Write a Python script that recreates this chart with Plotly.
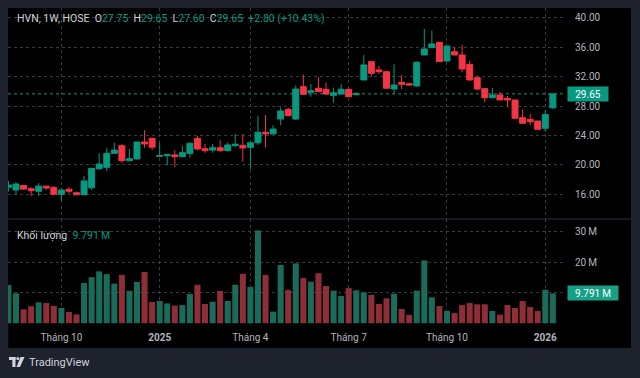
import plotly.graph_objects as go

# ---------------- data ----------------
dates = [
    "2024-08-19", "2024-08-26", "2024-09-02", "2024-09-09", "2024-09-16", "2024-09-23", "2024-09-30",
    "2024-10-07", "2024-10-14", "2024-10-21", "2024-10-28", "2024-11-04", "2024-11-11", "2024-11-18",
    "2024-11-25", "2024-12-02", "2024-12-09", "2024-12-16", "2024-12-23", "2024-12-30",
    "2025-01-06", "2025-01-13", "2025-01-20", "2025-02-03", "2025-02-10", "2025-02-17", "2025-02-24",
    "2025-03-03", "2025-03-10", "2025-03-17", "2025-03-24", "2025-03-31", "2025-04-07", "2025-04-14",
    "2025-04-21", "2025-04-28", "2025-05-05", "2025-05-12", "2025-05-19", "2025-05-26", "2025-06-02",
    "2025-06-09", "2025-06-16", "2025-06-23", "2025-06-30", "2025-07-07", "2025-07-14", "2025-07-21",
    "2025-07-28", "2025-08-04", "2025-08-11", "2025-08-18", "2025-08-25", "2025-09-01", "2025-09-08",
    "2025-09-15", "2025-09-22", "2025-09-29", "2025-10-06", "2025-10-13", "2025-10-20", "2025-10-27",
    "2025-11-03", "2025-11-10", "2025-11-17", "2025-11-24", "2025-12-01", "2025-12-08", "2025-12-15",
    "2025-12-22", "2025-12-29", "2026-01-05", "2026-01-12",
]
opens = [
    16.94, 16.57, 17.20, 16.75, 16.40, 17.10, 16.90, 16.00, 16.67, 16.20,
    15.93, 16.88, 19.47, 19.66, 21.56, 22.60, 20.56, 20.80, 23.10, 23.60,
    21.15, 21.25, 21.35, 21.10, 21.56, 23.60, 22.20, 22.00, 22.33, 21.92,
    22.60, 22.65, 22.38, 23.00, 24.42, 24.20, 26.23, 27.55, 26.23, 30.63,
    29.86, 30.41, 30.27, 29.45, 29.63, 30.27, 29.54, 31.54, 34.03, 32.90,
    32.67, 30.31, 31.22, 31.03, 30.72, 34.94, 35.93, 36.67, 34.12, 35.39,
    34.94, 33.67, 31.85, 30.36, 29.13, 29.50, 29.04, 28.82, 26.40, 26.19,
    25.96, 24.97, 27.75,
]
highs = [
    17.80, 17.62, 17.25, 16.94, 17.50, 17.15, 17.10, 16.80, 16.90, 16.35,
    18.50, 19.52, 21.56, 22.33, 23.00, 22.80, 22.15, 23.10, 24.70, 23.70,
    23.00, 21.40, 22.00, 22.60, 22.93, 23.92, 22.83, 22.83, 23.37, 23.06,
    24.20, 24.20, 23.00, 26.64, 26.78, 25.37, 27.82, 27.77, 30.82, 32.26,
    31.00, 31.90, 31.17, 30.50, 30.95, 30.27, 29.90, 34.94, 34.03, 33.44,
    32.67, 33.67, 32.20, 31.10, 34.03, 38.48, 38.24, 36.67, 36.20, 36.00,
    36.30, 34.16, 32.12, 30.36, 30.45, 29.95, 29.36, 28.82, 27.46, 26.90,
    25.96, 27.46, 29.65,
]
lows = [
    16.35, 15.99, 16.60, 15.76, 15.76, 16.60, 15.90, 15.10, 16.10, 15.90,
    15.90, 16.57, 19.30, 19.16, 21.47, 20.30, 20.47, 20.70, 22.33, 22.00,
    21.10, 19.90, 19.70, 21.10, 20.97, 22.00, 21.65, 21.65, 21.78, 21.92,
    22.47, 20.42, 19.40, 22.70, 22.38, 24.20, 25.40, 26.68, 26.10, 29.59,
    29.27, 29.95, 29.50, 28.45, 29.63, 29.27, 29.45, 31.54, 32.00, 32.35,
    30.41, 29.63, 30.31, 30.80, 30.63, 34.94, 35.93, 34.03, 34.10, 34.90,
    32.58, 31.44, 30.08, 28.50, 29.13, 28.82, 27.90, 26.24, 25.65, 25.40,
    24.83, 24.50, 27.60,
]
closes = [
    17.25, 17.39, 16.70, 16.48, 17.10, 16.84, 16.00, 16.57, 16.40, 15.93,
    17.80, 19.52, 20.10, 21.56, 22.00, 20.56, 20.83, 23.10, 22.83, 22.40,
    21.25, 21.40, 21.10, 21.65, 22.93, 22.15, 21.92, 22.33, 21.92, 22.70,
    22.80, 22.30, 23.00, 24.42, 24.20, 24.87, 27.32, 26.68, 30.31, 29.59,
    30.08, 29.95, 29.63, 29.80, 30.27, 29.27, 29.68, 33.58, 32.45, 32.67,
    30.41, 30.86, 30.95, 30.86, 33.95, 35.76, 36.44, 34.03, 36.16, 34.94,
    33.03, 31.54, 30.31, 29.13, 29.50, 28.82, 28.82, 26.33, 25.65, 25.86,
    24.83, 26.85, 29.65,
]
volumes_m = [
    12.5, 9.8, 4.55, 5.6, 6.85, 6.6, 5.7, 5.0, 3.7, 2.9,
    13.2, 15.1, 17.0, 16.1, 13.0, 15.8, 10.6, 13.5, 16.8, 6.95,
    7.3, 6.5, 5.75, 5.95, 9.6, 12.6, 6.3, 7.05, 10.55, 7.3,
    12.6, 16.2, 11.9, 30.4, 15.8, 3.8, 19.1, 10.9, 19.6, 14.8,
    13.6, 16.4, 12.2, 10.65, 8.9, 11.5, 10.8, 10.1, 9.25, 6.3,
    8.15, 9.7, 4.65, 2.7, 10.65, 20.6, 8.5, 5.65, 4.0, 3.35,
    5.95, 6.6, 6.2, 6.2, 4.0, 2.8, 5.95, 5.0, 7.3, 5.3,
    4.0, 11.0, 9.791,
]
up_flags = [
    1, 1, 0, 0, 1, 0, 0, 1, 0, 0,
    1, 1, 1, 1, 1, 0, 1, 1, 0, 0,
    1, 1, 0, 1, 1, 0, 0, 1, 0, 1,
    1, 0, 1, 1, 0, 1, 1, 0, 1, 0,
    1, 0, 0, 1, 1, 0, 1, 1, 0, 0,
    0, 1, 0, 0, 1, 1, 1, 0, 1, 0,
    0, 0, 0, 0, 1, 0, 0, 0, 0, 0,
    0, 1, 1,
]
price_ticks = [16, 20, 24, 28, 32, 36, 40]
vol_ticks = [10, 20, 30]
vol_tick_text = ["", "20\u2009M", "30\u2009M"]
time_tick_dates = ["2024-10-07", "2025-01-06", "2025-04-07", "2025-07-07", "2025-10-06", "2026-01-05"]
time_tick_text = ["Tháng 10", "<b>2025</b>", "Tháng 4", "Tháng 7", "Tháng 10", "<b>2026</b>"]
symbol = "HVN, 1W, HOSE"
volume_label = "Khối lượng"

# ---------------- style ----------------
UP = "#089981"
DOWN = "#F23645"
VOL_UP = "#1b6b5b"
VOL_DOWN = "#8e2e37"
GRID = "#363a45"
TXT = "#b2b5be"
LBL = "#d1d4dc"
FONT = "Roboto"

W, H = 640, 378
ML, MR, MT, MB = 8, 74, 8, 54
PW, PH = W - ML - MR, H - MT - MB


def px_x(x):
    return (x - ML) / PW


def px_y(y):
    return (H - MB - y) / PH


split = px_y(219)

fig = go.Figure()
fig.add_trace(go.Candlestick(
    x=dates, open=opens, high=highs, low=lows, close=closes,
    increasing=dict(line=dict(color=UP, width=1), fillcolor=UP),
    decreasing=dict(line=dict(color=DOWN, width=1), fillcolor=DOWN),
    whiskerwidth=0, xaxis="x", yaxis="y", hoverinfo="skip",
))
fig.add_trace(go.Bar(
    x=dates, y=volumes_m,
    marker=dict(color=[VOL_UP if u else VOL_DOWN for u in up_flags], line=dict(width=0)),
    xaxis="x", yaxis="y2", hoverinfo="skip",
))

last_close = closes[-1]
chg = closes[-1] - closes[-2]
pct = chg / closes[-2] * 100
sp = "\u00a0\u00a0"


def val(s):
    return f"<span style='color:{UP}'>{s}</span>"


header = (f"{symbol}{sp}O{val(f'{opens[-1]:.2f}')}{sp}H{val(f'{highs[-1]:.2f}')}"
          f"{sp}L{val(f'{lows[-1]:.2f}')}{sp}C{val(f'{closes[-1]:.2f}')}"
          f"{sp}{val(f'{chg:+.2f} ({pct:+.2f}%)')}")
vol_txt = f"{volumes_m[-1]:.3f}\u2009M"

annotations = [
    dict(text=header, xref="paper", yref="paper", x=px_x(15), y=px_y(19), xanchor="left",
         yanchor="middle", showarrow=False, font=dict(family=FONT, size=10.5, color=LBL)),
    dict(text=f"{volume_label}{sp}{val(vol_txt)}", xref="paper", yref="paper", x=px_x(15),
         y=px_y(235), xanchor="left", yanchor="middle", showarrow=False,
         font=dict(family=FONT, size=10.5, color=LBL)),
    dict(text=f"{last_close:.2f}", xref="paper", yref="y", x=px_x(567), y=last_close,
         xanchor="left", yanchor="middle", showarrow=False, bgcolor=UP, width=38, height=12,
         borderpad=1, font=dict(family=FONT, size=10, color="#ffffff")),
    dict(text=vol_txt, xref="paper", yref="y2", x=px_x(567), y=volumes_m[-1],
         xanchor="left", yanchor="middle", showarrow=False, bgcolor="#16a085", width=48, height=12,
         borderpad=1, font=dict(family=FONT, size=10, color="#ffffff")),
    dict(text="TradingView", xref="paper", yref="paper", x=px_x(27), y=px_y(362),
         xanchor="left", yanchor="middle", showarrow=False,
         font=dict(family=FONT, size=11, color=LBL)),
]

shapes = [
    # black chart panel
    dict(type="rect", xref="paper", yref="paper", x0=px_x(8.3), x1=px_x(631), y0=px_y(348), y1=px_y(8),
         fillcolor="#000000", line=dict(width=0), layer="below"),
    # pane separator
    dict(type="line", xref="paper", yref="paper", x0=px_x(8.3), x1=px_x(631), y0=split, y1=split,
         line=dict(color="#2e323e", width=1)),
    # last price line
    dict(type="line", xref="paper", yref="y", x0=0, x1=1, y0=last_close, y1=last_close,
         line=dict(color=UP, width=1, dash="dot"), layer="below"),
    # TradingView logo (approximation)
    dict(type="rect", xref="paper", yref="paper", x0=px_x(9), x1=px_x(15.5), y0=px_y(360), y1=px_y(357),
         fillcolor=LBL, line=dict(width=0)),
    dict(type="rect", xref="paper", yref="paper", x0=px_x(12.3), x1=px_x(15.5), y0=px_y(367), y1=px_y(357),
         fillcolor=LBL, line=dict(width=0)),
    dict(type="circle", xref="paper", yref="paper", x0=px_x(16.3), x1=px_x(19.3), y0=px_y(360), y1=px_y(357),
         fillcolor=LBL, line=dict(width=0)),
    dict(type="path", xref="paper", yref="paper",
         path=f"M {px_x(20.5)} {px_y(357)} L {px_x(24.5)} {px_y(357)} L {px_x(20)} {px_y(367)} L {px_x(16.5)} {px_y(367)} Z",
         fillcolor=LBL, line=dict(width=0)),
]

fig.update_layout(
    width=W, height=H,
    margin=dict(l=ML, r=MR, t=MT, b=MB, pad=0),
    paper_bgcolor="#1e222d",
    plot_bgcolor="#000000",
    showlegend=False,
    bargap=0.2,
    boxgap=0.1, boxgroupgap=0.12,
    font=dict(family=FONT, size=10, color=TXT),
    annotations=annotations,
    shapes=shapes,
    xaxis=dict(
        type="category", anchor="y2", range=[-0.06, 73.74],
        tickmode="array", tickvals=time_tick_dates, ticktext=time_tick_text,
        showgrid=True, gridcolor=GRID, griddash="dot", gridwidth=1,
        showline=False, zeroline=False, ticks="", ticklabelstandoff=6,
        tickfont=dict(family=FONT, size=10, color=TXT),
        rangeslider=dict(visible=False), fixedrange=True,
    ),
    yaxis=dict(
        domain=[split, 1], side="right", anchor="x", range=[12.63, 41.33],
        tickmode="array", tickvals=price_ticks, ticktext=[f"{v:.2f}" for v in price_ticks],
        showgrid=True, gridcolor=GRID, griddash="dot", gridwidth=1,
        showline=False, zeroline=False, ticks="", ticklabelstandoff=8,
        tickfont=dict(family=FONT, size=10, color=TXT),
    ),
    yaxis2=dict(
        domain=[0, split], side="right", anchor="x", range=[-0.26, 34.16],
        tickmode="array", tickvals=vol_ticks, ticktext=vol_tick_text,
        showgrid=True, gridcolor=GRID, griddash="dot", gridwidth=1,
        showline=False, zeroline=False, ticks="", ticklabelstandoff=8,
        tickfont=dict(family=FONT, size=10, color=TXT),
    ),
)

fig.write_html(
    "out.html",
    config={"displayModeBar": False},
    post_script="document.body.style.margin='0';document.body.style.background='#1e222d';",
)
